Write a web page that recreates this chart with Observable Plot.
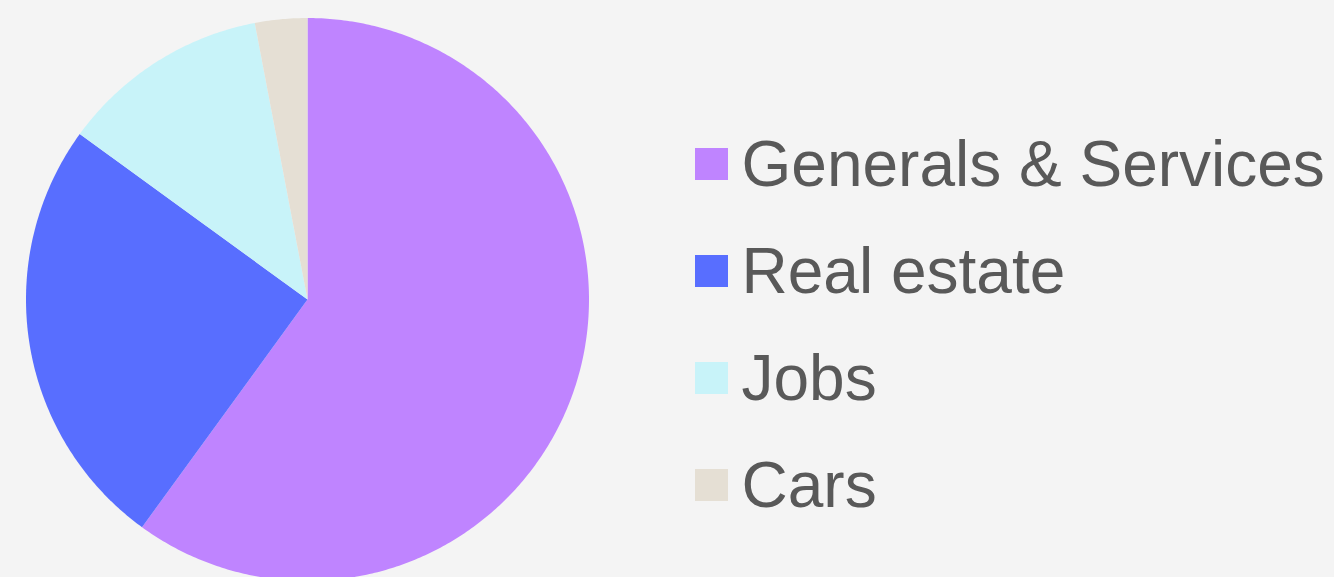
<!DOCTYPE html>
<html>
<head>
<meta charset="utf-8">
<script src="https://cdn.jsdelivr.net/npm/d3@7"></script>
<script src="https://cdn.jsdelivr.net/npm/@observablehq/plot@0.6"></script>
<style>
  html, body { margin: 0; padding: 0; background: #f4f4f4; }
  #chart { width: 1334px; height: 577px; overflow: hidden; }
</style>
</head>
<body>
<div id="chart"></div>
<script>
// Data
const categories = ["Generals & Services", "Real estate", "Jobs", "Cars"];
const shares = [60, 25, 12, 3];
const colors = ["#bf84ff", "#586eff", "#c8f3f9", "#e5dfd4"];

const W = 1334, H = 577;
const cx = 307, cy = 299, R = 281.5;

// Pie geometry via d3.pie (angles clockwise from 12 o'clock)
const arcs = d3.pie().sort(null).value(d => d.value)(
  categories.map((c, i) => ({ key: c, value: shares[i] }))
);
const slicePts = [];
for (const a of arcs) {
  slicePts.push({ key: a.data.key, x: cx, y: cy });
  const n = Math.max(2, Math.ceil((a.endAngle - a.startAngle) / 0.01));
  for (let k = 0; k <= n; k++) {
    const t = a.startAngle + (a.endAngle - a.startAngle) * k / n;
    slicePts.push({ key: a.data.key, x: cx + R * Math.sin(t), y: cy - R * Math.cos(t) });
  }
}

const legend = categories.map((c, i) => ({ key: c, i }));
const lx = 695, sw = 33, sh = 32, ly0 = 164, lstep = 107;

const plot = Plot.plot({
  width: W,
  height: H,
  margin: 0,
  x: { domain: [0, W], range: [0, W], axis: null },
  y: { domain: [0, H], range: [0, H], axis: null },
  color: { type: "ordinal", domain: categories, range: colors },
  style: { background: "#f4f4f4", fontFamily: "'Liberation Sans', Arial, sans-serif" },
  marks: [
    Plot.line(slicePts, { x: "x", y: "y", z: "key", fill: "key", stroke: "none", curve: "linear-closed" }),
    Plot.rect(legend, {
      x1: lx, x2: lx + sw,
      y1: d => ly0 + d.i * lstep - sh / 2,
      y2: d => ly0 + d.i * lstep + sh / 2,
      fill: "key"
    }),
    Plot.text(legend, {
      x: lx + sw + 13,
      y: d => ly0 + d.i * lstep + 1.5,
      text: "key",
      textAnchor: "start",
      lineAnchor: "middle",
      fontSize: 64,
      fill: "#595959"
    })
  ]
});
document.getElementById("chart").appendChild(plot);
</script>
</body>
</html>
